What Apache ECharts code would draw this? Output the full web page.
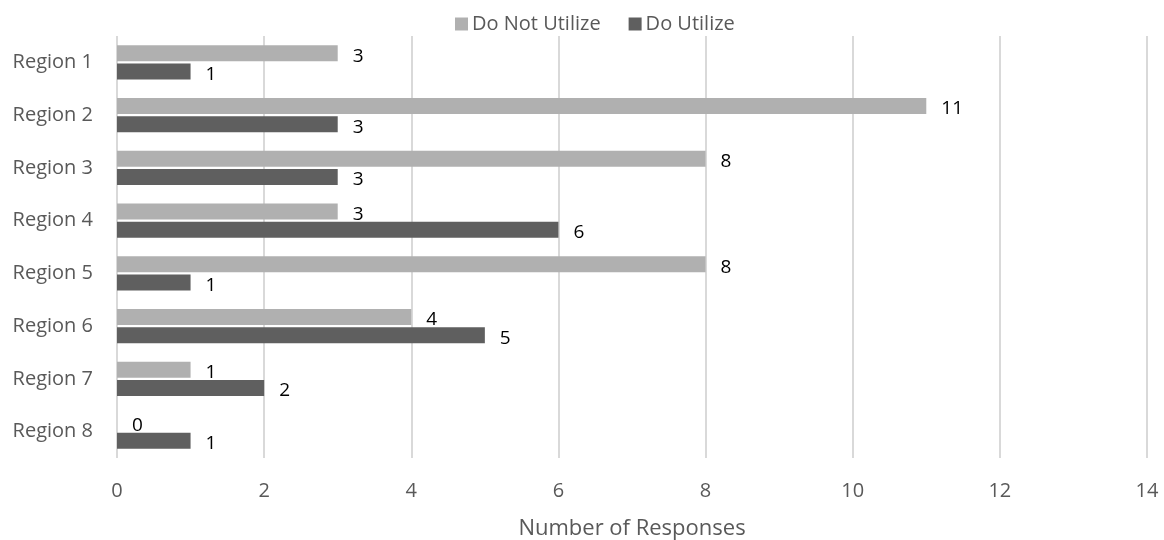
<!DOCTYPE html>
<html>
<head>
<meta charset="utf-8">
<script src="https://cdn.jsdelivr.net/npm/echarts@6/dist/echarts.min.js"></script>
<style>
  html, body { margin: 0; padding: 0; background: #ffffff; }
  #chart { width: 1164px; height: 540px; }
</style>
</head>
<body>
<div id="chart"></div>
<script>
// Survey responses per region
const regions = ['Region 1', 'Region 2', 'Region 3', 'Region 4', 'Region 5', 'Region 6', 'Region 7', 'Region 8'];
const doNotUtilize = [3, 11, 8, 3, 8, 4, 1, 0];
const doUtilize = [1, 3, 3, 6, 1, 5, 2, 1];
const seriesNames = ['Do Not Utilize', 'Do Utilize'];
const xTicks = { min: 0, max: 14, interval: 2 };

const FONT = '"Open Sans", "Liberation Sans", sans-serif';

const label = {
  show: true,
  position: 'right',
  distance: 15,
  offset: [0, 3],
  color: '#000000',
  fontSize: 19,
  fontFamily: FONT
};

const chart = echarts.init(document.getElementById('chart'), null, { renderer: 'canvas' });
chart.setOption({
  animation: false,
  backgroundColor: '#ffffff',
  legend: {
    top: 9,
    left: 450,
    itemWidth: 13,
    itemHeight: 13,
    itemGap: 28,
    icon: 'rect',
    textStyle: { color: '#595959', fontSize: 20, fontFamily: FONT, padding: [0, 0, 0, -1] },
    data: seriesNames
  },
  grid: { left: 117, right: 17, top: 36, bottom: 82, containLabel: false, outerBoundsMode: 'none' },
  xAxis: {
    type: 'value',
    min: xTicks.min,
    max: xTicks.max,
    interval: xTicks.interval,
    name: 'Number of Responses',
    nameLocation: 'middle',
    nameGap: 60,
    nameTextStyle: { color: '#595959', fontSize: 22, fontFamily: FONT },
    axisLine: { show: false },
    axisTick: { show: false },
    axisLabel: { color: '#595959', fontSize: 20, fontFamily: FONT, margin: 23 },
    splitLine: { show: true, lineStyle: { color: '#d9d9d9', width: 2 } }
  },
  yAxis: {
    type: 'category',
    inverse: true,
    data: regions,
    axisLine: { show: false },
    axisTick: { show: false },
    axisLabel: { color: '#595959', fontSize: 20, fontFamily: FONT, margin: 24 },
    splitLine: { show: false }
  },
  series: [
    {
      name: seriesNames[0],
      type: 'bar',
      data: doNotUtilize,
      barWidth: 16,
      barGap: '15%',
      itemStyle: { color: '#b0b0b0' },
      label: label
    },
    {
      name: seriesNames[1],
      type: 'bar',
      data: doUtilize,
      barWidth: 16,
      itemStyle: { color: '#5f5f5f' },
      label: label
    }
  ]
});
</script>
</body>
</html>
